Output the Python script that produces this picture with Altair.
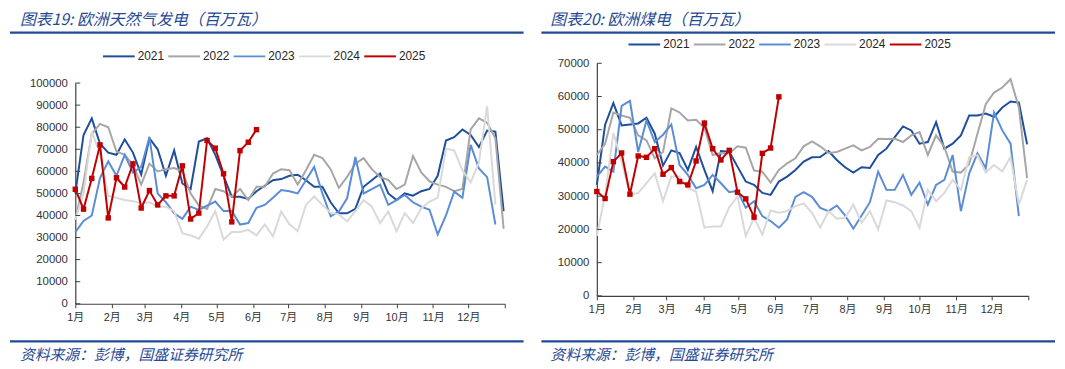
import altair as alt
import pandas as pd

# ---------------- data ----------------
YEARS = ["2021", "2022", "2023", "2024", "2025"]
COLORS = ["#1F4E9C", "#A6A6A6", "#5B8CD6", "#D9D9D9", "#C00000"]
MONTH_START_DAYS = [0, 31, 59, 90, 120, 151, 181, 212, 243, 273, 304, 334, 365]
MONTH_LABELS = ["1月", "2月", "3月", "4月", "5月", "6月", "7月", "8月", "9月", "10月", "11月", "12月"]
GAS_TICKS = [0, 10000, 20000, 30000, 40000, 50000, 60000, 70000, 80000, 90000, 100000]
COAL_TICKS = [0, 10000, 20000, 30000, 40000, 50000, 60000, 70000]

GAS_TITLE = "图表19: 欧洲天然气发电（百万瓦）"
COAL_TITLE = "图表20: 欧洲煤电（百万瓦）"
SOURCE = "资料来源：彭博，国盛证券研究所"

# weekly values, week 1 .. week N
gas_2021 = [50000, 76500, 84000, 72500, 68500, 67500, 74500, 68500, 58500, 75000, 70000, 58000, 69500,
            54500, 52000, 73500, 75000, 67500, 58000, 48500, 48500, 47500, 51000, 53500, 56000, 56500,
            58000, 58500, 56000, 53000, 53000, 46000, 41000, 41000, 43000, 53000, 56000, 59000, 50000,
            47000, 50000, 49000, 51000, 52000, 58000, 74000, 75500, 79000, 76500, 71000, 78500, 78000, 42000]
gas_2022 = [38000, 55000, 77000, 81500, 80000, 69000, 67500, 63000, 54000, 63500, 60000, 61000, 61500,
            60000, 50000, 44500, 43000, 52000, 51000, 48500, 52000, 47000, 53000, 53000, 59000, 61000,
            60500, 54000, 60500, 67500, 66000, 61000, 52500, 57500, 63500, 66000, 61000, 57500, 56000,
            52000, 54000, 67000, 59500, 55500, 54000, 53000, 51000, 52000, 79000, 84000, 82000, 75000, 34000]
gas_2023 = [32500, 37500, 40000, 57000, 64500, 58000, 67500, 59500, 62000, 75500, 50000, 46000, 41000,
            38500, 44000, 42500, 44500, 46300, 42000, 42000, 35900, 36600, 43500, 44800, 48000, 51500,
            51000, 50000, 56000, 62000, 50000, 39600, 41800, 47800, 66500, 50000, 52000, 54000, 44800,
            47000, 49300, 46000, 44000, 42600, 31400, 40000, 50800, 48000, 72000, 61300, 57400, 35900]
gas_2024 = [38000, 50000, 78000, 68000, 49000, 48000, 47000, 46500, 45500, 46000, 44000, 44000, 42000,
            32000, 31000, 29500, 35000, 42000, 29000, 32500, 32500, 33500, 31000, 36000, 30600, 41800,
            36000, 32900, 44800, 48600, 44800, 41200, 40500, 37300, 42000, 47000, 44000, 36600, 41800,
            32900, 41100, 36600, 43300, 46300, 48000, 70200, 69500, 60500, 55000, 64000, 89500, 45000]
gas_2025 = [51900, 42900, 56800, 72000, 38900, 57100, 52900, 63400, 43400, 51300, 44800, 48900, 48900,
            62500, 38400, 41100, 74000, 70500, 58900, 37100, 69400, 73200, 78900]

coal_2021 = [33400, 51500, 58000, 51300, 51600, 51900, 53600, 48800, 39200, 43800, 43000, 37900, 44800,
             37900, 31500, 43600, 43400, 38900, 34400, 33400, 31000, 30400, 34400, 35900, 37900, 40400,
             41700, 41800, 43600, 40900, 38700, 37100, 38700, 38500, 42400, 44300, 47800, 51000, 49800,
             45800, 46300, 52300, 44300, 45800, 48300, 54300, 54300, 54900, 53900, 56700, 58500, 58200, 45600]
coal_2022 = [42400, 45800, 55200, 54300, 53600, 48300, 46800, 41400, 43300, 56400, 55200, 52800, 53000,
             50600, 42400, 43000, 42900, 45000, 44600, 37700, 37400, 34100, 37900, 39900, 41400, 45000,
             46500, 45000, 43000, 43300, 44300, 45300, 43800, 44800, 47300, 47200, 47300, 46300, 48300,
             49300, 42400, 48300, 44800, 37400, 37100, 39700, 48800, 57700, 61200, 62700, 65200, 56700, 35400]
coal_2023 = [35900, 38900, 37400, 57200, 58700, 43300, 52800, 46300, 48500, 51600, 39400, 36400, 32400,
             33400, 36400, 33900, 31200, 31600, 26500, 28500, 24000, 22500, 20500, 23000, 29800, 31200,
             29800, 26500, 25500, 27200, 24200, 20200, 24200, 28200, 37400, 31900, 31900, 36400, 30400,
             34100, 27500, 33400, 34900, 42400, 25500, 36900, 42900, 38400, 55200, 49800, 45800, 24000]
coal_2024 = [18000, 30400, 49000, 40400, 30400, 31000, 33900, 36900, 28500, 35900, 35900, 32400, 31400,
             20500, 20900, 20900, 26700, 29900, 18000, 23500, 18500, 25700, 25000, 25500, 27000, 27800,
             25000, 20500, 25500, 23200, 23500, 27500, 22000, 25500, 20000, 28700, 28200, 27200, 25500,
             20500, 31900, 28500, 31000, 34900, 31900, 41800, 42300, 37100, 39400, 37400, 41800, 27500, 34900]
coal_2025 = [31400, 29300, 40400, 43000, 30600, 42100, 41700, 44300, 36600, 38600, 34400, 33400, 40600,
             52000, 44300, 40900, 43800, 31200, 29200, 23700, 42900, 44500, 59900]

GAS = dict(zip(YEARS, [gas_2021, gas_2022, gas_2023, gas_2024, gas_2025]))
COAL = dict(zip(YEARS, [coal_2021, coal_2022, coal_2023, coal_2024, coal_2025]))

# ---------------- style ----------------
BLUE = "#1F4A96"
AX = "#404040"
LABEL_FONT = "Liberation Sans, Noto Sans CJK SC"
CJK_FONT = "Noto Sans CJK SC"


def long_df(series):
    rows = []
    for yr, vals in series.items():
        for i, v in enumerate(vals):
            rows.append({"year": yr, "day": i * 7, "value": v})
    return pd.DataFrame(rows)


label_expr = ("datum.value >= 365 ? '' : " + str(MONTH_LABELS) + "[indexof(" +
              str(MONTH_START_DAYS[:-1]) + ", datum.value)]")


def panel(series, ticks, ymax, height, yrange, width, title, legend_x, legend_y,
          line_x0, line_x1, title_x):
    df = long_df(series)
    xenc = alt.X("day:Q",
                 scale=alt.Scale(domain=[0, 365], nice=False, zero=False),
                 axis=alt.Axis(values=MONTH_START_DAYS, labelExpr=label_expr, title=None, grid=False,
                               tickSize=4, tickColor=AX, domainColor=AX, domainWidth=1.2,
                               labelFont=LABEL_FONT, labelFontSize=11, labelColor="#333333",
                               labelPadding=4, labelFlush=False, labelOverlap=False))
    yscale = alt.Scale(domain=[0, ymax], nice=False, zero=True, range=yrange)
    yenc = alt.Y("value:Q", scale=yscale,
                 axis=alt.Axis(values=ticks, format="d", title=None, grid=False, ticks=False,
                               domainColor=AX, domainWidth=1.2, labelFont=LABEL_FONT,
                               labelFontSize=11.5, labelColor="#333333", labelPadding=8))

    lines = alt.Chart(df).mark_line(strokeWidth=2).encode(
        x=xenc, y=yenc,
        color=alt.Color("year:N",
                        scale=alt.Scale(domain=YEARS, range=COLORS),
                        legend=alt.Legend(orient="none", legendX=legend_x, legendY=legend_y,
                                          direction="horizontal", title=None, symbolType="stroke",
                                          symbolSize=1024, symbolStrokeWidth=2, labelFont=LABEL_FONT,
                                          labelFontSize=12, labelColor="#262626", labelOffset=2,
                                          columnPadding=0, padding=0)),
    )
    pts = alt.Chart(df[df["year"] == "2025"]).mark_square(size=30, opacity=1, color="#C00000").encode(
        x=xenc, y=yenc)

    tick_df = pd.DataFrame({"value": ticks})
    yticks = alt.Chart(tick_df).mark_rule(color=AX, strokeWidth=1).encode(
        y=yenc, x=alt.value(0), x2=alt.value(5))

    one = pd.DataFrame({"t": [title], "s": [SOURCE]})
    head_rule = alt.Chart(one).mark_rule(color=BLUE, strokeWidth=2.5).encode(
        x=alt.value(line_x0), x2=alt.value(line_x1), y=alt.value(-31))
    foot_rule = alt.Chart(one).mark_rule(color=BLUE, strokeWidth=2.5).encode(
        x=alt.value(line_x0), x2=alt.value(line_x1), y=alt.value(281))
    head_text = alt.Chart(one).mark_text(align="left", baseline="top", font=CJK_FONT, fontSize=16,
                                         fontStyle="italic", color=BLUE).encode(
        text="t:N", x=alt.value(title_x), y=alt.value(-52))
    foot_text = alt.Chart(one).mark_text(align="left", baseline="middle", font=CJK_FONT, fontSize=15,
                                         fontStyle="italic", color=BLUE).encode(
        text="s:N", x=alt.value(title_x), y=alt.value(295))

    return alt.layer(lines, pts, yticks, head_rule, foot_rule, head_text, foot_text).properties(
        width=width, height=height)


left = panel(GAS, GAS_TICKS, 100000, 243, [243, 20], 434, GAS_TITLE, 27, -24, -66, 453, -56)
right = panel(COAL, COAL_TICKS, 70000, 235, [235, 0], 436, COAL_TITLE, 31, -36, -56, 463, -47)

chart = alt.hconcat(left, right, spacing=14).resolve_scale(color="independent").properties(
    padding={"top": 2, "left": 0, "right": 0, "bottom": 0},
    background="white").configure_view(stroke=None)

chart.save("out.html", embed_options={"renderer": "svg", "actions": False})
